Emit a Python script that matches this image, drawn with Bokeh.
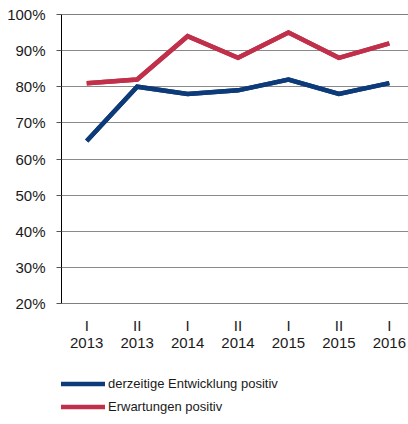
from bokeh.plotting import figure
from bokeh.models import Range1d, Span, Legend, LegendItem, FixedTicker, ColumnDataSource
from bokeh.layouts import column
from bokeh.embed import file_html
from bokeh.resources import INLINE

halbjahre = ["I", "II", "I", "II", "I", "II", "I"]
jahre = ["2013", "2013", "2014", "2014", "2015", "2015", "2016"]
entwicklung = [65, 80, 78, 79, 82, 78, 81]
erwartungen = [81, 82, 94, 88, 95, 88, 92]
y_ticks = [20, 30, 40, 50, 60, 70, 80, 90, 100]
serien = ["derzeitige Entwicklung positiv", "Erwartungen positiv"]

xs = list(range(len(jahre)))
labels = [f"{h}\n{j}" for h, j in zip(halbjahre, jahre)]

FONT = "Liberation Sans"
BLUE = "#0d3a78"
RED = "#c1304a"

p = figure(width=408, height=353, output_backend="svg", toolbar_location=None,
           x_range=Range1d(-0.5, 6.38), y_range=Range1d(20, 100),
           min_border_left=61, min_border_right=0, min_border_top=14, min_border_bottom=50)
p.outline_line_color = None
p.background_fill_color = "white"
p.border_fill_color = "white"

src = ColumnDataSource(dict(x=xs, a=entwicklung, b=erwartungen))
r1 = p.line("x", "a", source=src, line_color=BLUE, line_width=4.5, line_join="miter")
r2 = p.line("x", "b", source=src, line_color=RED, line_width=4.5, line_join="miter")

# grid
p.xgrid.grid_line_color = None
p.ygrid.ticker = FixedTicker(ticks=y_ticks)
p.ygrid.grid_line_color = "#8a8a8a"
p.ygrid.grid_line_width = 1
p.add_layout(Span(location=100, dimension="width", line_color="black", line_width=1))
p.add_layout(Span(location=20, dimension="width", line_color="black", line_width=1))
p.renderers.extend([r1, r2])

# y axis
ya = p.yaxis[0]
ya.ticker = FixedTicker(ticks=y_ticks)
ya.major_label_overrides = {t: f"{t}%" for t in y_ticks}
ya.axis_line_color = "black"
ya.axis_line_width = 1
ya.major_tick_out = 5
ya.major_tick_in = 0
ya.major_tick_line_color = "#555555"
ya.minor_tick_line_color = None
ya.major_label_standoff = 11
ya.major_label_text_font = FONT
ya.major_label_text_font_size = "15px"
ya.major_label_text_color = "#1a1a1a"

# x axis
xa = p.xaxis[0]
xa.ticker = FixedTicker(ticks=xs)
xa.major_label_overrides = {x: l for x, l in zip(xs, labels)}
xa.axis_line_color = None
xa.major_tick_line_color = None
xa.minor_tick_line_color = None
xa.major_label_standoff = 7
xa.major_label_text_font = FONT
xa.major_label_text_font_size = "15px"
xa.major_label_text_line_height = 1.0
xa.major_label_text_color = "#1a1a1a"

# legend panel below the chart (its lines reuse the chart's series, drawn off-range)
p2 = figure(width=408, height=68, output_backend="svg", toolbar_location=None,
            x_range=Range1d(0, 1), y_range=Range1d(0, 1),
            x_axis_type=None, y_axis_type=None,
            min_border_left=0, min_border_right=0, min_border_top=0, min_border_bottom=0)
p2.outline_line_color = None
p2.grid.visible = False
src2 = ColumnDataSource(dict(x=xs, a=entwicklung, b=erwartungen))
l1 = p2.line("x", "a", source=src2, line_color=BLUE, line_width=4.5)
l2 = p2.line("x", "b", source=src2, line_color=RED, line_width=4.5)
legend = Legend(items=[LegendItem(label=serien[0], renderers=[l1]),
                       LegendItem(label=serien[1], renderers=[l2])],
                location=(-7, 7), orientation="vertical",
                padding=0, margin=0, spacing=8,
                glyph_width=51, glyph_height=15, label_height=15, label_standoff=3,
                label_text_font=FONT, label_text_font_size="13px", label_text_color="#1a1a1a",
                border_line_color=None, background_fill_alpha=0)
p2.add_layout(legend, "center")

layout = column(p, p2, spacing=0)
open("out.html", "w").write(file_html(layout, INLINE))
